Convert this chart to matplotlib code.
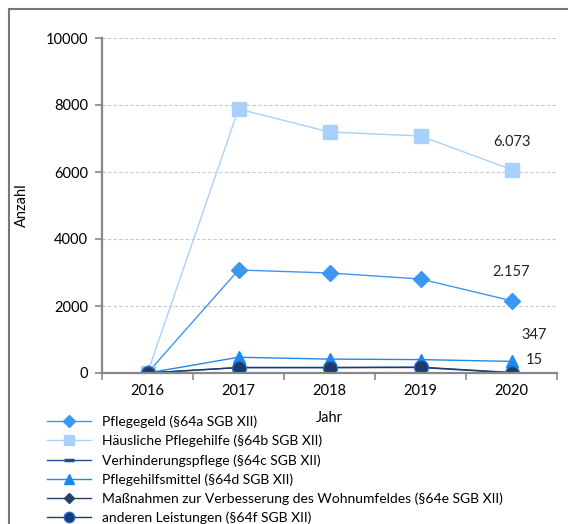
import numpy as np
import matplotlib.pyplot as plt
from matplotlib.patches import Rectangle

plt.rcParams['font.family'] = ['Lato', 'DejaVu Sans']

# ==========================================
# Daten
# ==========================================
jahre = ['2016', '2017', '2018', '2019', '2020']
pflegegeld = [0, 3075, 2985, 2806, 2157]
haeusliche = [0, 7880, 7194, 7075, 6073]
verhinderung = [0, 165, 165, 175, 15]
hilfsmittel = [0, 470, 415, 400, 347]
massnahmen = [0, 8, 8, 8, 5]
andere = [0, 160, 160, 165, 5]

serien = [
    ('Pflegegeld (§64a SGB XII)', pflegegeld, '#3D97F2', 'D', 8, '#3D97F2'),
    ('Häusliche Pflegehilfe (§64b SGB XII)', haeusliche, '#A8D0FF', 's', 10, '#A8D0FF'),
    ('Verhinderungspflege (§64c SGB XII)', verhinderung, '#1F4F99', '_', 9, '#1F4F99'),
    ('Pflegehilfsmittel (§64d SGB XII)', hilfsmittel, '#1F88EE', '^', 9, '#1F88EE'),
    ('Maßnahmen zur Verbesserung des Wohnumfeldes (§64e SGB XII)', massnahmen, '#2A4268', 'D', 7, '#2A4268'),
    ('anderen Leistungen (§64f SGB XII)', andere, '#1C3B6A', 'o', 10, '#1F6FD0'),
]

# Beschriftungen am Ende (Jahr 2020)
end_labels = ['6.073', '2.157', '347', '15']

# ==========================================
# Plot
# ==========================================
fig = plt.figure(figsize=(5.68, 5.24), dpi=100)
ax = fig.add_axes([102/568, 1 - 373/524, 455/568, 335/524])

x = np.arange(len(jahre))
for name, vals, col, mk, ms, mec in serien:
    ax.plot(x, vals, color=col, lw=1.0, marker=mk, markersize=ms,
            markerfacecolor=col, markeredgecolor=mec,
            markeredgewidth=2.5 if mk == '_' else 1.0, label=name)

# Datenbeschriftungen
ax.text(4, 6900, end_labels[0], ha='center', va='center', fontsize=10.5, color='#222222')
ax.text(4, 3020, end_labels[1], ha='center', va='center', fontsize=10.5, color='#222222')
ax.text(4.25, 1120, end_labels[2], ha='center', va='center', fontsize=10.5, color='#222222')
ax.text(4.25, 400, end_labels[3], ha='center', va='center', fontsize=10.5, color='#222222')

ax.set_xlim(-0.5, 4.5)
ax.set_ylim(0, 10000)
ax.set_yticks(np.arange(0, 10001, 2000))
ax.set_xticks(x)
ax.set_xticklabels(jahre)
ax.set_xticks(np.arange(-0.5, 4.6, 1), minor=True)
ax.tick_params(axis='x', which='major', length=0, pad=8, labelsize=10.5)
ax.tick_params(axis='x', which='minor', length=5, color='#888888', width=1.2)
ax.tick_params(axis='y', length=5, color='#888888', width=1.2, labelsize=10.5, pad=5)

ax.yaxis.grid(True, linestyle=(0, (3, 2)), color='#c8c8c8', lw=0.8)
ax.set_axisbelow(True)
for s in ['top', 'right']:
    ax.spines[s].set_visible(False)
for s in ['left', 'bottom']:
    ax.spines[s].set_color('#888888')
    ax.spines[s].set_linewidth(1.6)

ax.set_ylabel('Anzahl', fontsize=10.5, labelpad=12)
ax.set_xlabel('Jahr', fontsize=10.5, labelpad=9)

leg = fig.legend(loc='upper left', bbox_to_anchor=(41/568, 1 - 410/524),
                 frameon=False, fontsize=10, handlelength=3.2, markerscale=0.75,
                 handletextpad=0.8, labelspacing=0.48, borderaxespad=0)

# Rahmen um die Grafik
fig.patches.append(Rectangle((9/568, -0.1), 1.2, 1 - 9/524 + 0.1,
                             transform=fig.transFigure, fill=False,
                             edgecolor='#777777', lw=1.5))

fig.savefig('out.png', dpi=100)
